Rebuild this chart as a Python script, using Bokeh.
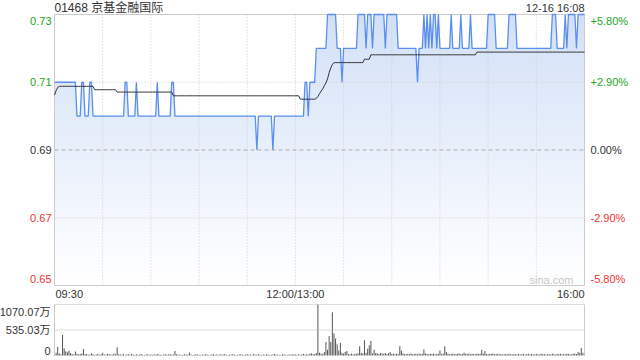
from bokeh.plotting import figure
from bokeh.models import Range1d
from bokeh.embed import file_html
from bokeh.resources import INLINE
from bokeh.core.properties import value

# ---------------- data ----------------
title_text = "01468 京基金融国际"
stamp_text = "12-16 16:08"
time_labels = ["09:30", "12:00/13:00", "16:00"]
time_label_minutes = [0, 150, 330]
price_ticks = [0.73, 0.71, 0.69, 0.67, 0.65]
price_tick_labels = ["0.73", "0.71", "0.69", "0.67", "0.65"]
pct_tick_labels = ["+5.80%", "+2.90%", "0.00%", "-2.90%", "-5.80%"]
prev_close = 0.69
vol_ticks = [1070.07, 535.03, 0]
vol_tick_labels = ["1070.07万", "535.03万", "0"]

# minute price as (price, number of minutes) runs, 09:30 .. 16:00 (331 points)
price_runs = [
    (0.71, 14), (0.70, 3), (0.71, 2), (0.70, 3), (0.71, 2), (0.70, 20), (0.71, 2),
    (0.70, 5), (0.71, 1), (0.70, 12), (0.71, 1), (0.70, 8), (0.71, 2), (0.70, 51),
    (0.69, 1), (0.70, 9), (0.69, 1), (0.70, 19),
    (0.71, 2), (0.70, 1), (0.71, 4), (0.72, 7), (0.73, 6), (0.72, 3), (0.71, 1),
    (0.72, 9), (0.73, 5), (0.72, 1), (0.73, 3), (0.72, 1), (0.73, 7), (0.72, 1),
    (0.73, 7), (0.72, 12), (0.71, 1), (0.72, 3),
    (0.73, 1), (0.72, 1), (0.73, 1), (0.72, 1), (0.73, 1), (0.72, 1), (0.73, 2),
    (0.72, 1), (0.73, 1),
    (0.72, 7), (0.73, 1), (0.72, 5), (0.73, 1), (0.72, 5), (0.73, 1), (0.72, 10),
    (0.73, 5), (0.72, 8), (0.73, 5), (0.72, 22), (0.73, 3), (0.72, 5), (0.73, 1),
    (0.72, 1), (0.73, 5), (0.72, 1), (0.73, 5),
]

# average price as (price, number of minutes) runs
avg_runs = [
    (0.7062, 1), (0.7075, 1), (0.7085, 1), (0.7088, 22), (0.7078, 14), (0.7071, 35),
    (0.7060, 79), (0.7050, 10),
    (0.7052, 1), (0.7058, 1), (0.7066, 1), (0.7074, 1), (0.7080, 1), (0.7090, 1),
    (0.7098, 1), (0.7110, 1), (0.7128, 1), (0.7142, 1), (0.7152, 1), (0.7158, 1),
    (0.7158, 18), (0.7168, 4), (0.7181, 66), (0.7189, 68),
]

# minute volume (万股)
volume = [
    306, 60, 178, 40, 25, 428, 150, 90, 70, 100, 50, 30, 20, 86, 35, 20, 30, 40, 135, 25,
    30, 15, 20, 45, 25, 10, 20, 35, 15, 25, 60, 20, 15, 30, 25, 20, 15, 40, 25, 171,
    25, 20, 15, 30, 10, 20, 25, 15, 30, 20, 10, 25, 15, 20, 30, 15, 10, 20, 25, 15,
    20, 10, 25, 15, 30, 20, 15, 10, 20, 25, 15, 20, 30, 15, 20, 92, 25, 15, 20, 10,
    15, 25, 20, 15, 64, 20, 10, 15, 25, 20, 15, 10, 20, 15, 25, 20, 10, 15, 20, 25,
    15, 20, 10, 25, 15, 20, 30, 15, 10, 20, 15, 25, 20, 10, 15, 20, 25, 15, 10, 20,
    25, 15, 20, 10, 30, 15, 20, 25, 15, 10, 20, 15, 25, 20, 10, 15, 20, 30, 15, 20,
    10, 15, 25, 20, 15, 10, 20, 15, 25, 20,
    20, 15, 25, 10, 20, 30, 15, 25, 20, 35,
    40, 25, 30, 50, 1070.07, 60, 40, 30, 71, 285,
    120, 407, 285, 905, 464, 357, 235, 107, 263, 60,
    40, 71, 92, 30, 25, 40, 20, 35, 30, 45,
    192, 50, 40, 321, 60, 143, 214, 306, 40, 121,
    50, 45, 30, 50, 40, 35, 50, 30, 45, 71,
    30, 40, 25, 35, 30, 192, 107, 40, 30, 25,
    35, 30, 40, 25, 30, 35, 25, 40, 30, 35,
    128, 40, 30, 25, 35, 30, 40, 25, 30, 35,
    107, 30, 40, 192, 71, 35, 25, 30, 40, 25,
    30, 35, 40, 25, 30, 60, 35, 30, 40, 25,
    35, 30, 25, 40, 30, 35, 121, 40, 92, 30,
    25, 35, 30, 40, 25, 30, 35, 25, 30, 20,
    25, 30, 20, 35, 25, 20, 30, 25, 20, 35,
    20, 25, 30, 20, 25, 35, 20, 30, 25, 20,
    30, 25, 20, 35, 25, 30, 20, 25, 30, 20,
    35, 25, 20, 30, 25, 35, 20, 30, 25, 35,
    30, 20, 25, 35, 40, 30, 71, 50, 157, 60, 157,
]

price = [v for v, n in price_runs for _ in range(n)]
avg = [v for v, n in avg_runs for _ in range(n)]
minutes = list(range(len(price)))
x_end = minutes[-1]
y_lo, y_hi = price_ticks[-1], price_ticks[0]
v_hi = vol_ticks[0]

# ---------------- layout geometry (pixels) ----------------
W, H = 640, 360
PL, PR = 54, 584        # pane left / right
PT, PB = 14, 285        # price pane top / bottom
VT, VB = 304, 355       # volume pane top / bottom
kx = (PR - PL) / x_end
ky = (PB - PT) / (y_hi - y_lo)
kv = (VB - VT) / v_hi

FONT = "Liberation Sans"
CJK_FONT = "Liberation Sans, Noto Sans CJK SC"
GREEN = "#1aa81a"
RED = "#f03333"
DARK = "#333333"
GRID = "#cccccc"

p = figure(width=W, height=H,
           x_range=Range1d(-PL / kx, (W - PL) / kx),
           y_range=Range1d(y_hi - (H - PT) / ky, y_hi + PT / ky),
           x_axis_location=None, y_axis_location=None, toolbar_location=None,
           output_backend="svg", min_border=0)
p.extra_y_ranges = {"vol": Range1d(-(H - VB) / kv, VB / kv)}
p.grid.visible = False
p.outline_line_color = None
p.background_fill_color = "white"
p.border_fill_color = "white"

# gradient fill under the price line
N = 90
top_rgb = (0xd2, 0xe0, 0xf7)
bottoms, tops, colors = [], [], []
for i in range(N):
    b = y_lo + (y_hi - y_lo) * i / N
    t = y_lo + (y_hi - y_lo) * (i + 1.5) / N
    f = (i + 0.5) / N
    rgb = tuple(int(round(255 + (c - 255) * f)) for c in top_rgb)
    bottoms.append(b)
    tops.append(min(t, y_hi))
    colors.append("#%02x%02x%02x" % rgb)
p.quad(left=0, right=x_end, bottom=bottoms, top=tops, fill_color=colors,
       line_color=None, level="image")
p.varea(x=minutes, y1=price, y2=[y_hi] * len(price), fill_color="white", level="image")

# grid lines
xg = list(range(30, x_end, 30))
p.segment(x0=xg, x1=xg, y0=y_lo, y1=y_hi, line_color=GRID, line_dash="1 2",
          line_width=1, level="underlay")
yg = [0.71, 0.67]
p.segment(x0=0, x1=x_end, y0=yg, y1=yg, line_color=GRID, line_dash="1 2",
          line_width=1, level="underlay")
p.segment(x0=0, x1=x_end, y0=prev_close, y1=prev_close, line_color="#aaaaaa",
          line_dash="4 3", line_width=1, level="underlay")

# price pane border (under the lines)
p.quad(left=0, right=x_end, bottom=y_lo, top=y_hi, fill_color=None,
       line_color=GRID, line_width=1, level="underlay")

p.line(minutes, price, line_color="#5b8ef0", line_width=1.3)
p.line(minutes, avg, line_color="#333333", line_width=1)

# axis texts
label_colors = [GREEN, GREEN, DARK, RED, RED]
label_offsets = [6, 0, 0, 0, -7]
p.text(x=0, y=price_ticks, text=price_tick_labels, text_color=label_colors,
       x_offset=-3, y_offset=label_offsets, text_align="right", text_baseline="middle",
       text_font=value(FONT), text_font_size=value("11px"))
p.text(x=x_end, y=price_ticks, text=pct_tick_labels, text_color=label_colors,
       x_offset=6, y_offset=label_offsets, text_align="left", text_baseline="middle",
       text_font=value(FONT), text_font_size=value("11px"))
p.text(x=time_label_minutes, y=y_lo, text=time_labels, x_offset=[1, 0, 0], y_offset=8,
       text_align=["left", "center", "right"], text_baseline="middle", text_color=DARK,
       text_font=value(FONT), text_font_size=value("11px"))
p.text(x=[0], y=[y_hi], text=[title_text], y_offset=-7, text_align="left",
       text_baseline="middle", text_color=DARK, text_font=value(CJK_FONT),
       text_font_size=value("12px"))
p.text(x=[x_end], y=[y_hi], text=[stamp_text], y_offset=-7, text_align="right",
       text_baseline="middle", text_color=DARK, text_font=value(FONT),
       text_font_size=value("11px"))
p.text(x=[x_end], y=[y_lo], text=["sina.com"], x_offset=-11, y_offset=-6,
       text_align="right", text_baseline="middle", text_color="#c8c8c8",
       text_font=value(FONT), text_font_size=value("11px"))

# ---------------- volume pane ----------------
p.vbar(x=minutes, top=volume, bottom=0, width=0.62, fill_color="#555555",
       line_color=None, y_range_name="vol")
vg = vol_ticks[:2]
p.segment(x0=0, x1=x_end, y0=vg, y1=vg, line_color="#bbbbbb", line_dash="1 1",
          line_width=1, y_range_name="vol")
p.segment(x0=[0, x_end], x1=[0, x_end], y0=0, y1=v_hi, line_color=GRID,
          line_width=1, y_range_name="vol")
p.text(x=0, y=vol_ticks, text=vol_tick_labels, x_offset=-4, y_offset=[7, 0, -5],
       text_align="right", text_baseline="middle", text_color=DARK,
       text_font=value(CJK_FONT), text_font_size=value("11px"), y_range_name="vol")

open("out.html", "w").write(file_html(p, INLINE))
